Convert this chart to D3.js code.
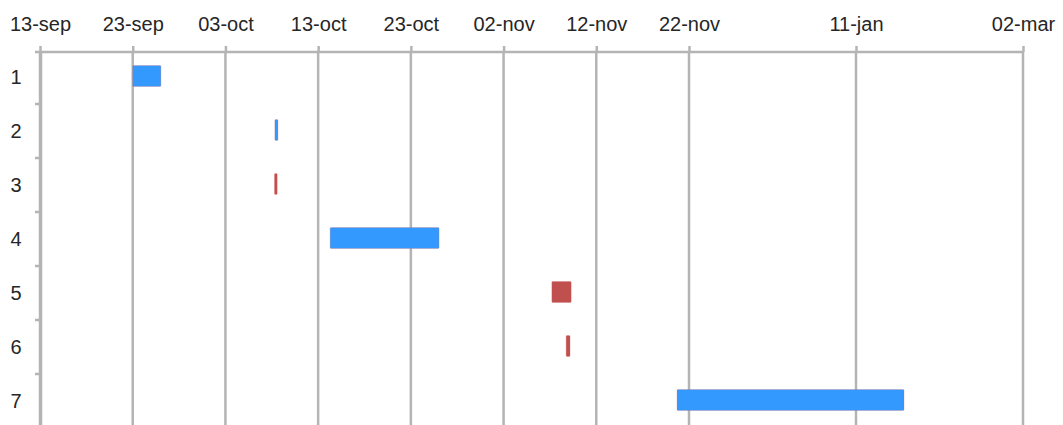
<!DOCTYPE html>
<html>
<head>
<meta charset="utf-8">
<script src="https://cdn.jsdelivr.net/npm/d3@7"></script>
<style>
  html, body { margin: 0; padding: 0; background: #fff; }
  svg { display: block; }
  text { font-family: Arial, "Liberation Sans", sans-serif; fill: #262626; }
</style>
</head>
<body>
<div id="chart"></div>
<script>
// --- Data ---
const tasks = ['1', '2', '3', '4', '5', '6', '7'];
const starts = ['2014-09-23T00:00', '2014-10-08T08:00', '2014-10-08T07:00', '2014-10-14T07:00',
                '2014-11-07T05:00', '2014-11-08T18:00', '2014-11-20T17:00'];
const ends = ['2014-09-26T01:00', '2014-10-08T16:00', '2014-10-08T14:00', '2014-10-26T01:00',
              '2014-11-09T07:00', '2014-11-09T04:00', '2015-01-25T09:00'];
const kinds = ['blue', 'blue', 'red', 'blue', 'red', 'red', 'blue'];
const tickDates = ['2014-09-13', '2014-09-23', '2014-10-03', '2014-10-13', '2014-10-23',
                   '2014-11-02', '2014-11-12', '2014-11-22', '2015-01-11', '2015-03-02'];
// the axis breaks scale after 22-nov
const scaleBreaks = ['2014-09-13', '2014-11-22', '2015-03-02'];

const W = 1063, H = 425;
const colors = { blue: '#3399ff', red: '#c0504d' };
const gridColor = '#b4b4b4';
const months = ['jan', 'feb', 'mar', 'apr', 'may', 'jun', 'jul', 'aug', 'sep', 'oct', 'nov', 'dec'];

const parse = s => new Date(s);
const fmt = d => `${d3.timeFormat('%d')(d)}-${months[d.getMonth()]}`;

const x = d3.scaleTime()
  .domain(scaleBreaks.map(parse))
  .range([40, 689, 1023]);

const y = d3.scaleBand()
  .domain(tasks)
  .range([50, 428])
  .padding(0);

const barH = 21;

const svg = d3.select('#chart').append('svg')
  .attr('width', W)
  .attr('height', H);

// vertical grid lines
svg.append('g')
  .selectAll('line')
  .data(tickDates.map(parse))
  .join('line')
  .attr('x1', d => x(d))
  .attr('x2', d => x(d))
  .attr('y1', 52)
  .attr('y2', H + 5)
  .attr('stroke', gridColor)
  .attr('stroke-width', 2.5);

// top axis
const xAxis = svg.append('g')
  .attr('transform', 'translate(0,52)')
  .call(d3.axisTop(x).tickValues(tickDates.map(parse)).tickFormat(fmt).tickSize(6).tickSizeOuter(0));
xAxis.select('.domain').attr('stroke', gridColor).attr('stroke-width', 2.5)
  .attr('d', `M35,0H${x(parse(tickDates[tickDates.length - 1]))}`);
xAxis.selectAll('.tick line').attr('stroke', gridColor).attr('stroke-width', 2.5);
xAxis.selectAll('.tick text')
  .attr('y', -21)
  .style('font-size', '20px')
  .style('font-family', 'Arial, "Liberation Sans", sans-serif')
  .attr('fill', '#262626');

// left axis with ticks between categories
const yAxis = svg.append('g');
yAxis.append('line')
  .attr('x1', 41).attr('x2', 41)
  .attr('y1', 52).attr('y2', H + 5)
  .attr('stroke', gridColor).attr('stroke-width', 2.5);
yAxis.selectAll('.ytick')
  .data(tasks)
  .join('line')
  .attr('class', 'ytick')
  .attr('x1', 35).attr('x2', 41)
  .attr('y1', d => y(d) + y.step())
  .attr('y2', d => y(d) + y.step())
  .attr('stroke', gridColor).attr('stroke-width', 2.5);
yAxis.selectAll('.ylabel')
  .data(tasks)
  .join('text')
  .attr('class', 'ylabel')
  .attr('x', 16)
  .attr('y', d => y(d) + y.bandwidth() / 2)
  .attr('dy', '0.36em')
  .attr('text-anchor', 'middle')
  .style('font-size', '20px')
  .text(d => d);

// bars
svg.append('g')
  .selectAll('rect')
  .data(tasks.map((t, i) => ({ t, s: parse(starts[i]), e: parse(ends[i]), k: kinds[i] })))
  .join('rect')
  .attr('x', d => x(d.s))
  .attr('y', d => y(d.t) + (y.bandwidth() - barH) / 2 - 1)
  .attr('width', d => Math.max(2.5, x(d.e) - x(d.s)))
  .attr('height', barH)
  .attr('rx', 1)
  .attr('fill', d => colors[d.k])
  .attr('stroke', 'rgba(220,90,90,0.25)')
  .attr('stroke-width', 1);
</script>
</body>
</html>
